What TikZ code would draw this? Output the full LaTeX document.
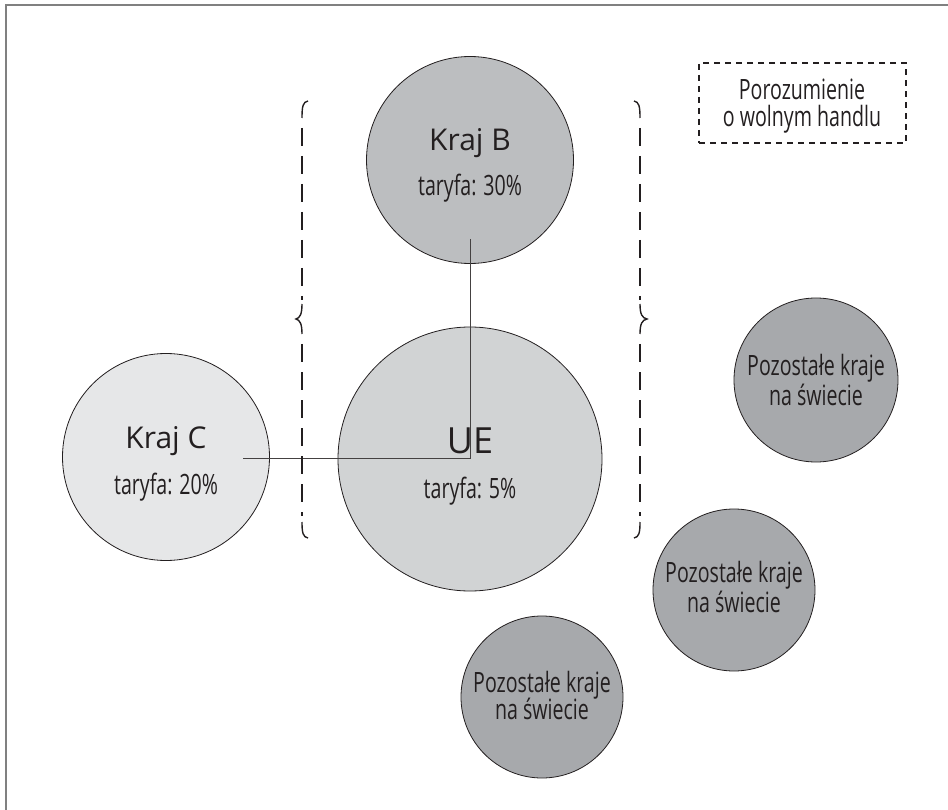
\documentclass[tikz,border=0pt]{standalone}
\usepackage{fontspec}
\setmainfont{Open Sans}
\newfontfamily\narrowfont[FakeStretch=0.7]{Open Sans}
\usetikzlibrary{calc}

\definecolor{inkc}{HTML}{231F20}
\definecolor{framec}{HTML}{808080}
\definecolor{fillB}{HTML}{BCBEC0}
\definecolor{fillUE}{HTML}{D1D3D4}
\definecolor{fillC}{HTML}{E6E7E8}
\definecolor{fillRest}{HTML}{A7A9AC}

\tikzset{
  country/.style={circle, draw=inkc, line width=0.8pt, inner sep=0pt},
  title/.style={text=inkc, inner sep=0pt, anchor=base, font=\fontsize{30}{36}\selectfont},
  bigtitle/.style={text=inkc, inner sep=0pt, anchor=base, font=\fontsize{36}{42}\selectfont},
  small/.style={text=inkc, inner sep=0pt, anchor=base, font=\narrowfont\fontsize{28}{33}\selectfont},
  link/.style={draw=inkc!85, line width=0.9pt},
  bracepart/.style={draw=inkc, line width=1.4pt},
  bracedash/.style={bracepart, dash pattern=on 18pt off 10pt},
}

\begin{document}
\begin{tikzpicture}[x=1pt, y=-1pt]
  \useasboundingbox (0,0) rectangle (948,810);

  % outer frame (open to the right and bottom)
  \draw[framec, line width=2pt] (6,810) -- (6,5) -- (948,5);

  % countries
  \node[country, fill=fillB,  minimum size=207pt] (B)  at (470,160) {};
  \node[country, fill=fillUE, minimum size=264pt] (UE) at (470,459) {};
  \node[country, fill=fillC,  minimum size=207pt] (C)  at (166,457) {};
  \node[country, fill=fillRest, minimum size=164pt] (R1) at (816,380) {};
  \node[country, fill=fillRest, minimum size=162pt] (R2) at (734,590) {};
  \node[country, fill=fillRest, minimum size=162pt] (R3) at (542,697) {};

  % labels inside the circles
  \node[title] (Bname) at ($(B)+(0,-9)$) {Kraj B};
  \node[small] (Brate) at ($(B)+(0,36)$) {taryfa: 30\%};
  \node[bigtitle] (UEname) at ($(UE)+(0,-6)$) {UE};
  \node[small] (UErate) at ($(UE)+(0,39)$) {taryfa: 5\%};
  \node[title] (Cname) at ($(C)+(0,-9)$) {Kraj C};
  \node[small] (Crate) at ($(C)+(0,37)$) {taryfa: 20\%};

  \node[small] (R1a) at ($(R1)+(0,-5)$) {Pozostałe kraje};
  \node[small] (R1b) at ($(R1)+(0,25)$) {na świecie};
  \node[small] (R2a) at ($(R2)+(0,-8)$) {Pozostałe kraje};
  \node[small] (R2b) at ($(R2)+(0,22)$) {na świecie};
  \node[small] (R3a) at ($(R3)+(0,-5)$) {Pozostałe kraje};
  \node[small] (R3b) at ($(R3)+(0,22)$) {na świecie};

  % trade links B -> UE -> C
  \coordinate (Bend) at ($(B)+(0,79)$);
  \coordinate (Cend) at ($(C)+(77,1)$);
  \draw[link] (Bend) |- (Cend);

  % left brace of the agreement
  \draw[bracepart] (308,101) .. controls (303,102) and (302,106) .. (302,118);
  \draw[bracedash] (302,128) -- (302,300);
  \draw[bracepart] (302,304) .. controls (302,314) and (300,318) .. (296,319)
                             .. controls (300,320) and (302,324) .. (302,334);
  \draw[bracedash] (302,344) -- (302,516);
  \draw[bracepart] (302,522) .. controls (302,533) and (303,537) .. (308,538);

  % right brace of the agreement
  \draw[bracepart] (634,101) .. controls (639,102) and (640,106) .. (640,118);
  \draw[bracedash] (640,128) -- (640,300);
  \draw[bracepart] (640,304) .. controls (640,314) and (642,318) .. (647,319)
                             .. controls (642,320) and (640,324) .. (640,334);
  \draw[bracedash] (640,344) -- (640,516);
  \draw[bracepart] (640,522) .. controls (640,533) and (639,537) .. (634,538);

  % legend
  \node[draw=inkc, line width=1.3pt, dash pattern=on 6pt off 5pt,
        minimum width=207pt, minimum height=80pt, inner sep=0pt] (key) at (802.5,103) {};
  \node[small] (keyA) at (802,100) {Porozumienie};
  \node[small] (keyB) at (802,127) {o wolnym handlu};
\end{tikzpicture}
\end{document}
